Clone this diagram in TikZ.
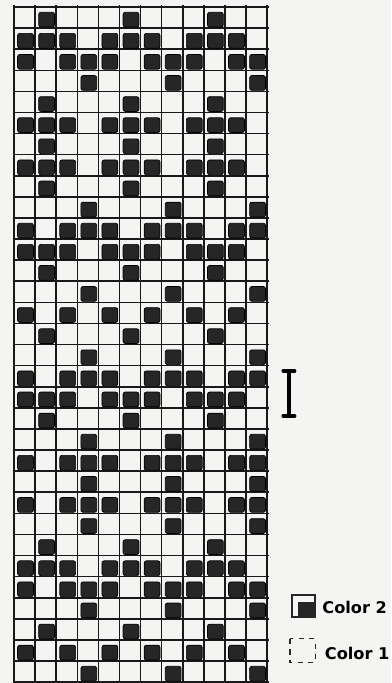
\documentclass[tikz,border=0pt]{standalone}
\usepackage{fontspec}
\setsansfont{DejaVu Sans}
\usepackage{tikz}
\usetikzlibrary{positioning}
\definecolor{paper}{RGB}{244,244,242}
\definecolor{stitchDark}{RGB}{38,38,38}

\begin{document}
\begin{tikzpicture}[
    x=0.422cm, y=0.422cm,
    gridline/.style={line width=0.9pt, black!90},
    stitch/.style={fill=stitchDark, draw=black, line width=0.4pt, rounded corners=1.2pt},
    keybox/.style={line width=0.8pt, black!85},
    keytext/.style={font=\sffamily\bfseries\fontsize{9.2}{11}\selectfont,
                    anchor=west, inner sep=0pt},
  ]
    % Paper
    \fill[paper] (-0.664,0.332) rectangle (17.87,-32.04);
    \useasboundingbox (-0.664,0.332) rectangle (17.87,-32.04);

    % Chart grid: 12 stitches x 32 rows
    \foreach \c in {0,...,12}
      \draw[gridline] (\c,0.1) -- (\c,-32.1);
    \foreach \r in {0,...,32}
      \draw[gridline] (-0.05,-\r) -- (12.1,-\r);

    % Color 2 stitches (rows counted from the top)
    \foreach \r in {1,5,7,9,13,16,20,26,30}
      \foreach \c in {2,6,10}
        \draw[stitch] (\c-0.83,-\r+0.75) rectangle (\c-0.08,-\r+0.05);
    \foreach \r in {2,6,8,12,19,27}
      \foreach \c in {1,2,3,5,6,7,9,10,11}
        \draw[stitch] (\c-0.83,-\r+0.75) rectangle (\c-0.08,-\r+0.05);
    \foreach \r in {3,11,18,22,24,28}
      \foreach \c in {1,3,4,5,7,8,9,11,12}
        \draw[stitch] (\c-0.83,-\r+0.75) rectangle (\c-0.08,-\r+0.05);
    \foreach \r in {4,10,14,17,21,23,25,29,32}
      \foreach \c in {4,8,12}
        \draw[stitch] (\c-0.83,-\r+0.75) rectangle (\c-0.08,-\r+0.05);
    \foreach \r in {15,31}
      \foreach \c in {1,3,5,7,9,11}
        \draw[stitch] (\c-0.83,-\r+0.75) rectangle (\c-0.08,-\r+0.05);

    % Repeat marker
    \draw[line width=2.2pt] (13.03,-17.25) -- (13.03,-19.38);
    \draw[line width=2pt, line cap=round] (12.76,-17.25) -- (13.30,-17.25);
    \draw[line width=2pt, line cap=round] (12.76,-19.38) -- (13.30,-19.38);

    % Key
    \draw[keybox] (13.18,-27.87) rectangle (14.27,-28.91);
    \fill[stitchDark] (13.47,-28.22) rectangle (14.20,-28.88);
    \node[keytext] (keyTwo) at (14.60,-28.44) {Color 2};

    \draw[keybox, dashed, line width=0.6pt] (13.08,-29.95) rectangle (14.27,-31.09);
    \node[keytext] (keyOne) at (14.72,-30.62) {Color 1};
  \end{tikzpicture}
\end{document}
